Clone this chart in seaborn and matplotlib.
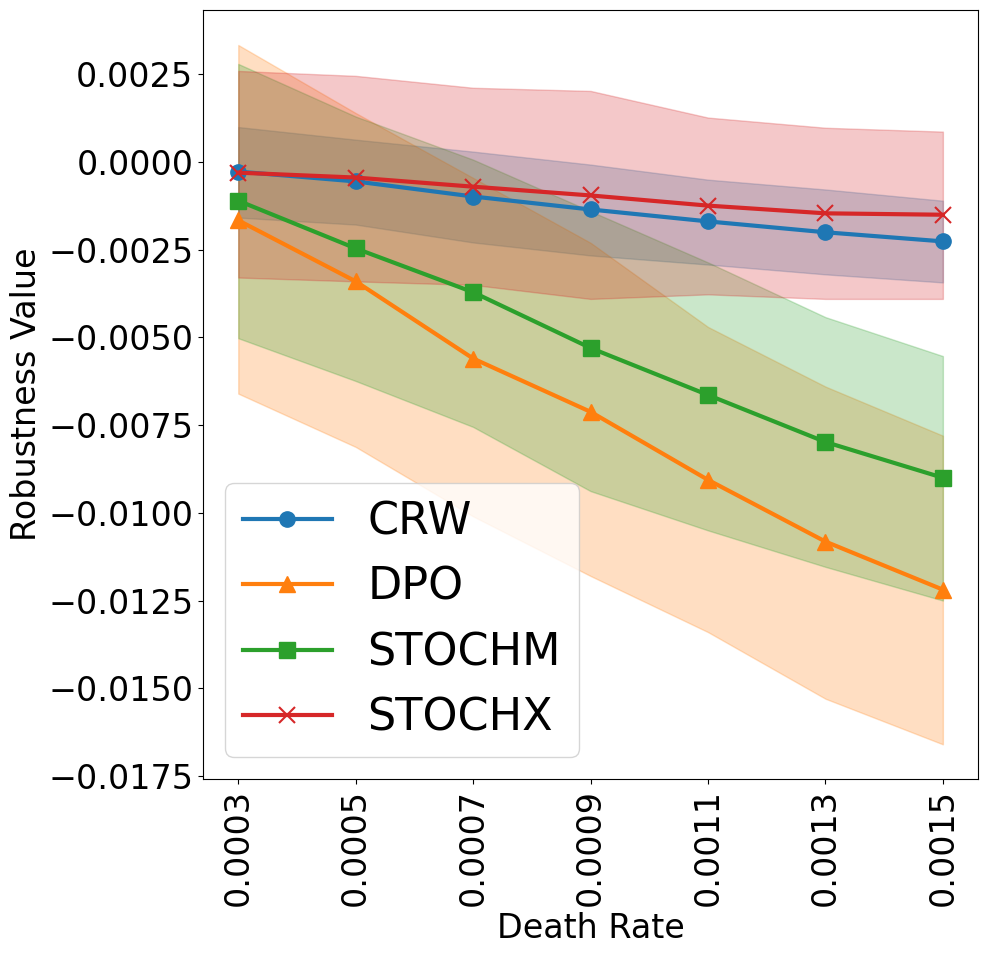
import numpy as np
import pandas as pd
import matplotlib
matplotlib.use("Agg")
import matplotlib.pyplot as plt
import seaborn as sns

# Death rates on the x axis
death_rates = [0.0003, 0.0005, 0.0007, 0.0009, 0.0011, 0.0013, 0.0015]
tick_labels = ["0.0003", "0.0005", "0.0007", "0.0009", "0.0011", "0.0013", "0.0015"]

# Mean robustness per method
crw_mean = [-0.00027, -0.00055, -0.00098, -0.00135, -0.00169, -0.00200, -0.00226]
dpo_mean = [-0.00166, -0.00340, -0.00560, -0.00712, -0.00906, -0.01082, -0.01219]
stochm_mean = [-0.00110, -0.00246, -0.00371, -0.00530, -0.00664, -0.00798, -0.00900]
stochx_mean = [-0.00030, -0.00044, -0.00070, -0.00095, -0.00124, -0.00146, -0.00150]

# Shaded band edges (lower, upper)
crw_low = [-0.00158, -0.00178, -0.00229, -0.00266, -0.00292, -0.00320, -0.00343]
crw_high = [0.00100, 0.00064, 0.00030, -0.00007, -0.00050, -0.00078, -0.00110]
dpo_low = [-0.00660, -0.00812, -0.01010, -0.01180, -0.01340, -0.01530, -0.01660]
dpo_high = [0.00334, 0.00140, -0.00045, -0.00230, -0.00470, -0.00640, -0.00780]
stochm_low = [-0.00502, -0.00624, -0.00755, -0.00938, -0.01050, -0.01154, -0.01250]
stochm_high = [0.00280, 0.00130, 0.00007, -0.00140, -0.00286, -0.00442, -0.00553]
stochx_low = [-0.00329, -0.00340, -0.00350, -0.00390, -0.00377, -0.00390, -0.00390]
stochx_high = [0.00260, 0.00246, 0.00212, 0.00203, 0.00127, 0.00098, 0.00087]

methods = ["CRW", "DPO", "STOCHM", "STOCHX"]
means = [crw_mean, dpo_mean, stochm_mean, stochx_mean]
lows = [crw_low, dpo_low, stochm_low, stochx_low]
highs = [crw_high, dpo_high, stochm_high, stochx_high]
markers = ["o", "^", "s", "x"]
colors = sns.color_palette("tab10", 4)

fig, ax = plt.subplots(figsize=(9.88, 9.55), dpi=100)

for name, m, lo, hi, mk, c in zip(methods, means, lows, highs, markers, colors):
    df = pd.DataFrame({"rate": death_rates, "value": m})
    sns.lineplot(data=df, x="rate", y="value", ax=ax, color=c, marker=mk,
                 markersize=11, linewidth=3, label=name,
                 markeredgecolor=c if mk != "x" else None,
                 markeredgewidth=1 if mk != "x" else 1.5)
    ax.fill_between(death_rates, lo, hi, color=c, alpha=0.25)

ax.set_xticks(death_rates)
ax.set_xticklabels(tick_labels, rotation=90)
ax.tick_params(axis="both", labelsize=24)
ax.set_xlabel("Death Rate", fontsize=24)
ax.set_ylabel("Robustness Value", fontsize=24)
ax.legend(loc="lower left", fontsize=32)

fig.subplots_adjust(left=0.2055, right=0.99, top=0.9895, bottom=0.184)
fig.savefig("out.png", dpi=100)
